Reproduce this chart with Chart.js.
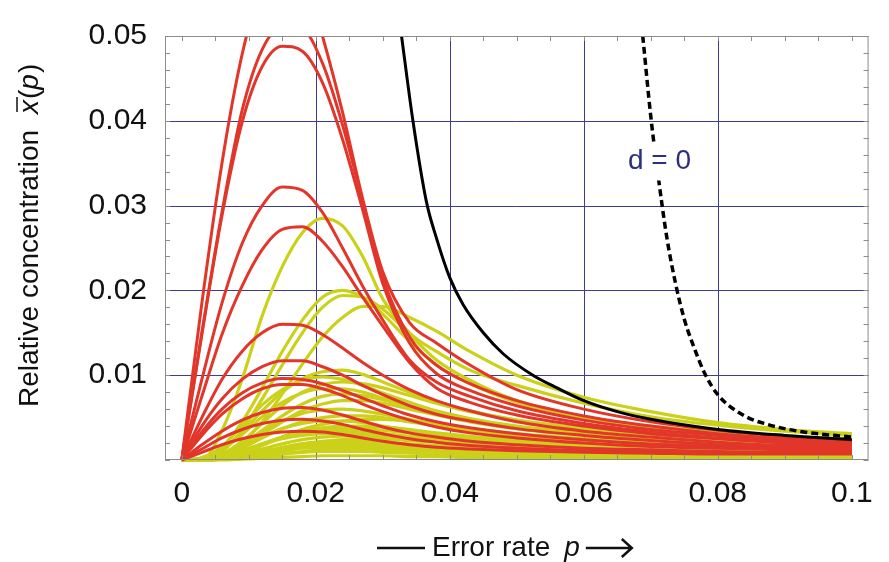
<!DOCTYPE html>
<html>
<head>
<meta charset="utf-8">
<script src="https://cdn.jsdelivr.net/npm/chart.js@4.4.1/dist/chart.umd.min.js"></script>
<style>
  html, body { margin: 0; padding: 0; background: #fff; }
  #wrap { width: 889px; height: 562px; }
</style>
</head>
<body>
<div id="wrap"><canvas id="chart" width="889" height="562"></canvas></div>
<script>
// error rate grid shared by the red and yellow curves
const P = [0, 0.003, 0.006, 0.009, 0.012, 0.015, 0.018, 0.021, 0.024, 0.027, 0.030, 0.034, 0.038, 0.043, 0.050, 0.060, 0.070, 0.080, 0.090, 0.100];

// red curves
const red1  = [0, 0.0185, 0.0350, 0.0478, 0.0560, 0.0596, 0.0578, 0.0500, 0.0410, 0.0308, 0.0222, 0.0162, 0.0138, 0.0112, 0.0083, 0.0060, 0.0045, 0.0035, 0.0028, 0.0023];
const red2  = [0, 0.0150, 0.0292, 0.0412, 0.0484, 0.0511, 0.0508, 0.0468, 0.0395, 0.0305, 0.0215, 0.0145, 0.0112, 0.0090, 0.0070, 0.0052, 0.0040, 0.0031, 0.0025, 0.0021];
const red3  = [0, 0.0148, 0.0288, 0.0398, 0.0464, 0.0488, 0.0482, 0.0445, 0.0378, 0.0295, 0.0208, 0.0138, 0.0102, 0.0082, 0.0064, 0.0047, 0.0036, 0.0029, 0.0023, 0.0020];
const red4  = [0, 0.0095, 0.0185, 0.0255, 0.0300, 0.0322, 0.0318, 0.0292, 0.0250, 0.0205, 0.0165, 0.0118, 0.0092, 0.0075, 0.0058, 0.0043, 0.0033, 0.0026, 0.0021, 0.0018];
const red5  = [0, 0.0075, 0.0148, 0.0205, 0.0248, 0.0272, 0.0275, 0.0258, 0.0228, 0.0192, 0.0158, 0.0115, 0.0085, 0.0068, 0.0053, 0.0040, 0.0031, 0.0025, 0.0020, 0.0017];
const red6  = [0, 0.0050, 0.0095, 0.0128, 0.0150, 0.0160, 0.0159, 0.0148, 0.0132, 0.0115, 0.0100, 0.0083, 0.0070, 0.0058, 0.0045, 0.0034, 0.0027, 0.0021, 0.0017, 0.0015];
const red7  = [0, 0.0040, 0.0072, 0.0095, 0.0110, 0.0117, 0.0117, 0.0110, 0.0100, 0.0088, 0.0077, 0.0064, 0.0054, 0.0046, 0.0037, 0.0029, 0.0023, 0.0018, 0.0015, 0.0013];
const red8  = [0, 0.0033, 0.0060, 0.0079, 0.0091, 0.0096, 0.0095, 0.0090, 0.0082, 0.0073, 0.0064, 0.0053, 0.0045, 0.0038, 0.0031, 0.0024, 0.0019, 0.0016, 0.0013, 0.0012];
const red9  = [0, 0.0029, 0.0054, 0.0072, 0.0084, 0.0089, 0.0089, 0.0084, 0.0076, 0.0066, 0.0057, 0.0047, 0.0039, 0.0032, 0.0026, 0.0020, 0.0016, 0.0014, 0.0012, 0.0011];
const red10 = [0, 0.0018, 0.0034, 0.0047, 0.0056, 0.0061, 0.0062, 0.0059, 0.0053, 0.0046, 0.0039, 0.0032, 0.0027, 0.0022, 0.0018, 0.0014, 0.0012, 0.0010, 0.0009, 0.0009];
const red11 = [0, 0.0013, 0.0026, 0.0036, 0.0043, 0.0047, 0.0048, 0.0046, 0.0042, 0.0036, 0.0031, 0.0025, 0.0021, 0.0017, 0.0014, 0.0011, 0.0010, 0.0009, 0.0008, 0.0008];
const red12 = [0, 0.0009, 0.0018, 0.0025, 0.0030, 0.0033, 0.0034, 0.0033, 0.0030, 0.0026, 0.0022, 0.0018, 0.0015, 0.0013, 0.0011, 0.0009, 0.0008, 0.0007, 0.0007, 0.0007];

// yellow curves
const yellow1  = [0, 0.0000, 0.0035, 0.0095, 0.0170, 0.0228, 0.0268, 0.0285, 0.0276, 0.0240, 0.0190, 0.0150, 0.0128, 0.0106, 0.0088, 0.0067, 0.0051, 0.0041, 0.0034, 0.0029];
const yellow2  = [0, 0.0002, 0.0015, 0.0045, 0.0085, 0.0128, 0.0165, 0.0192, 0.0200, 0.0192, 0.0172, 0.0140, 0.0112, 0.0090, 0.0068, 0.0050, 0.0039, 0.0032, 0.0027, 0.0024];
const yellow3  = [0, 0.0001, 0.0010, 0.0035, 0.0072, 0.0112, 0.0150, 0.0180, 0.0194, 0.0192, 0.0178, 0.0148, 0.0118, 0.0094, 0.0070, 0.0051, 0.0040, 0.0033, 0.0028, 0.0025];
const yellow4  = [0, 0.0001, 0.0006, 0.0020, 0.0045, 0.0078, 0.0113, 0.0145, 0.0168, 0.0181, 0.0181, 0.0168, 0.0152, 0.0128, 0.0100, 0.0074, 0.0057, 0.0044, 0.0036, 0.0031];
const yellow5  = [0, 0.0002, 0.0012, 0.0033, 0.0058, 0.0080, 0.0096, 0.0104, 0.0106, 0.0101, 0.0092, 0.0080, 0.0069, 0.0058, 0.0047, 0.0037, 0.0030, 0.0025, 0.0022, 0.0020];
const yellow6  = [0, 0.0003, 0.0016, 0.0040, 0.0065, 0.0083, 0.0094, 0.0098, 0.0095, 0.0088, 0.0079, 0.0068, 0.0058, 0.0049, 0.0040, 0.0032, 0.0026, 0.0022, 0.0019, 0.0017];
const yellow7  = [0, 0.0001, 0.0007, 0.0022, 0.0043, 0.0064, 0.0080, 0.0089, 0.0092, 0.0090, 0.0085, 0.0076, 0.0067, 0.0057, 0.0047, 0.0037, 0.0030, 0.0025, 0.0022, 0.0020];
const yellow8  = [0, 0.0002, 0.0012, 0.0030, 0.0051, 0.0068, 0.0079, 0.0084, 0.0084, 0.0080, 0.0073, 0.0063, 0.0054, 0.0046, 0.0037, 0.0029, 0.0024, 0.0020, 0.0017, 0.0016];
const yellow9  = [0, 0.0001, 0.0006, 0.0018, 0.0035, 0.0052, 0.0066, 0.0075, 0.0078, 0.0076, 0.0071, 0.0063, 0.0055, 0.0047, 0.0039, 0.0031, 0.0025, 0.0021, 0.0019, 0.0017];
const yellow10 = [0, 0.0001, 0.0005, 0.0015, 0.0030, 0.0045, 0.0058, 0.0066, 0.0070, 0.0070, 0.0067, 0.0060, 0.0053, 0.0045, 0.0037, 0.0029, 0.0023, 0.0019, 0.0017, 0.0015];
const yellow11 = [0, 0.0001, 0.0007, 0.0019, 0.0034, 0.0046, 0.0055, 0.0059, 0.0060, 0.0058, 0.0054, 0.0048, 0.0042, 0.0036, 0.0030, 0.0024, 0.0020, 0.0017, 0.0015, 0.0014];
const yellow12 = [0, 0.0001, 0.0005, 0.0014, 0.0026, 0.0037, 0.0045, 0.0050, 0.0052, 0.0052, 0.0050, 0.0045, 0.0040, 0.0035, 0.0029, 0.0023, 0.0019, 0.0016, 0.0014, 0.0013];
const yellow13 = [0, 0.0000, 0.0002, 0.0008, 0.0017, 0.0027, 0.0036, 0.0042, 0.0046, 0.0048, 0.0048, 0.0046, 0.0042, 0.0037, 0.0031, 0.0025, 0.0020, 0.0017, 0.0015, 0.0014];
const yellow14 = [0, 0.0001, 0.0006, 0.0016, 0.0027, 0.0037, 0.0043, 0.0046, 0.0046, 0.0044, 0.0040, 0.0035, 0.0030, 0.0026, 0.0021, 0.0017, 0.0014, 0.0012, 0.0011, 0.0010];
const yellow15 = [0, 0.0000, 0.0003, 0.0009, 0.0018, 0.0027, 0.0034, 0.0038, 0.0040, 0.0040, 0.0039, 0.0036, 0.0032, 0.0028, 0.0024, 0.0019, 0.0016, 0.0014, 0.0012, 0.0011];
const yellow16 = [0, 0.0000, 0.0003, 0.0010, 0.0019, 0.0027, 0.0033, 0.0036, 0.0037, 0.0037, 0.0035, 0.0032, 0.0028, 0.0024, 0.0020, 0.0016, 0.0013, 0.0011, 0.0010, 0.0010];
const yellow17 = [0, 0.0000, 0.0004, 0.0011, 0.0019, 0.0026, 0.0031, 0.0033, 0.0034, 0.0033, 0.0031, 0.0028, 0.0025, 0.0022, 0.0018, 0.0015, 0.0012, 0.0010, 0.0009, 0.0009];
const yellow18 = [0, 0.0000, 0.0003, 0.0010, 0.0018, 0.0025, 0.0029, 0.0031, 0.0031, 0.0030, 0.0028, 0.0025, 0.0022, 0.0019, 0.0016, 0.0013, 0.0011, 0.0009, 0.0008, 0.0008];
const yellow19 = [0, 0.0000, 0.0002, 0.0007, 0.0013, 0.0019, 0.0024, 0.0027, 0.0028, 0.0028, 0.0027, 0.0025, 0.0022, 0.0019, 0.0016, 0.0013, 0.0011, 0.0009, 0.0008, 0.0008];
const yellow20 = [0, 0.0000, 0.0001, 0.0004, 0.0009, 0.0014, 0.0019, 0.0022, 0.0024, 0.0025, 0.0025, 0.0023, 0.0021, 0.0018, 0.0015, 0.0012, 0.0010, 0.0008, 0.0007, 0.0007];
const yellow21 = [0, 0.0000, 0.0002, 0.0005, 0.0010, 0.0015, 0.0019, 0.0021, 0.0022, 0.0022, 0.0021, 0.0019, 0.0017, 0.0015, 0.0013, 0.0010, 0.0008, 0.0007, 0.0006, 0.0006];
const yellow22 = [0, 0.0000, 0.0001, 0.0004, 0.0008, 0.0012, 0.0016, 0.0018, 0.0019, 0.0019, 0.0018, 0.0016, 0.0014, 0.0012, 0.0010, 0.0008, 0.0007, 0.0006, 0.0005, 0.0005];
const yellow23 = [0, 0.0000, 0.0001, 0.0004, 0.0007, 0.0011, 0.0014, 0.0015, 0.0016, 0.0016, 0.0015, 0.0014, 0.0013, 0.0011, 0.0009, 0.0007, 0.0006, 0.0005, 0.0005, 0.0005];
const yellow24 = [0, 0.0000, 0.0001, 0.0002, 0.0005, 0.0008, 0.0010, 0.0012, 0.0013, 0.0013, 0.0012, 0.0011, 0.0010, 0.0009, 0.0007, 0.0006, 0.0005, 0.0004, 0.0004, 0.0004];
const yellow25 = [0, 0.0000, 0.0001, 0.0002, 0.0004, 0.0007, 0.0009, 0.0010, 0.0010, 0.0010, 0.0009, 0.0008, 0.0007, 0.0006, 0.0005, 0.0004, 0.0004, 0.0003, 0.0003, 0.0003];
const yellow26 = [0, 0.0000, 0.0000, 0.0001, 0.0002, 0.0003, 0.0004, 0.0005, 0.0005, 0.0005, 0.0005, 0.0004, 0.0004, 0.0003, 0.0003, 0.0002, 0.0002, 0.0002, 0.0002, 0.0002];

// error threshold (black) and d = 0 (dashed)
const blackP = [0.0328, 0.0345, 0.0365, 0.038, 0.040, 0.042, 0.045, 0.048, 0.0524, 0.056, 0.060, 0.065, 0.070, 0.080, 0.090, 0.100];
const blackY = [0.0500, 0.0400, 0.0305, 0.0262, 0.0215, 0.0183, 0.0150, 0.0125, 0.0100, 0.0085, 0.0070, 0.0057, 0.0048, 0.0036, 0.0029, 0.0024];
const dashP = [0.0688, 0.0700, 0.0711, 0.0724, 0.0737, 0.0750, 0.0762, 0.0780, 0.0800, 0.0840, 0.0874, 0.0920, 0.1000];
const dashY = [0.0500, 0.0405, 0.0335, 0.0262, 0.0208, 0.0166, 0.0138, 0.0103, 0.0077, 0.0052, 0.0042, 0.0034, 0.0027];

const xTicks = [0, 0.02, 0.04, 0.06, 0.08, 0.1];
const xTickLabels = ['0', '0.02', '0.04', '0.06', '0.08', '0.1'];
const yTicks = [0.01, 0.02, 0.03, 0.04, 0.05];
const yTickLabels = ['0.01', '0.02', '0.03', '0.04', '0.05'];
const xGrid = [0.02, 0.04, 0.06, 0.08];
const yGrid = [0.01, 0.02, 0.03, 0.04];

const dLabel = { p: 0.0713, v: 0.0352, text: 'd = 0' };

const RED = '#e2362b';
const YELLOW = '#cbd118';
const NAVY = '#3c3c94';
const FONT = "'Liberation Sans', Arial, sans-serif";

const redSeries = [red1, red2, red3, red4, red5, red6, red7, red8, red9, red10, red11, red12];
const yellowSeries = [yellow1, yellow2, yellow3, yellow4, yellow5, yellow6, yellow7, yellow8, yellow9, yellow10,
  yellow11, yellow12, yellow13, yellow14, yellow15, yellow16, yellow17, yellow18, yellow19, yellow20,
  yellow21, yellow22, yellow23, yellow24, yellow25, yellow26];

function toPoints(xs, ys) {
  return xs.map((x, i) => ({ x: x, y: ys[i] }));
}

function curve(xs, ys, color, width, dash) {
  return {
    data: toPoints(xs, ys),
    borderColor: color,
    borderWidth: width,
    borderDash: dash || [],
    pointRadius: 0,
    fill: false,
    cubicInterpolationMode: 'monotone',
    clip: { left: 2, top: 0, right: 2, bottom: 3 }
  };
}

// first dataset is drawn on top
const datasets = [];
datasets.push(curve(blackP, blackY, '#000', 3));
datasets.push(curve(dashP, dashY, '#000', 3.5, [7, 4]));
redSeries.forEach(s => datasets.push(curve(P, s, RED, 3)));
yellowSeries.forEach(s => datasets.push(curve(P, s, YELLOW, 3.2)));

const decorations = {
  id: 'decorations',
  beforeDatasetsDraw(chart) {
    const { ctx, chartArea: a, scales: { x, y } } = chart;
    ctx.save();
    ctx.strokeStyle = NAVY;
    ctx.lineWidth = 1;
    ctx.beginPath();
    xGrid.forEach(v => {
      const px = Math.round(x.getPixelForValue(v)) + 0.5;
      ctx.moveTo(px, a.top); ctx.lineTo(px, a.bottom);
    });
    yGrid.forEach(v => {
      const py = Math.round(y.getPixelForValue(v)) + 0.5;
      ctx.moveTo(a.left, py); ctx.lineTo(a.right, py);
    });
    ctx.stroke();
    ctx.restore();
  },
  afterDraw(chart) {
    const { ctx, chartArea: a, scales: { x, y } } = chart;
    ctx.save();

    // frame
    ctx.strokeStyle = '#8c8c8c';
    ctx.lineWidth = 1;
    ctx.strokeRect(a.left + 0.5, a.top + 0.5, a.right - a.left - 1, a.bottom - a.top - 1);

    // small inside ticks
    ctx.beginPath();
    for (let v = 0; v <= 0.1 + 1e-9; v += 0.005) {
      const px = Math.round(x.getPixelForValue(v)) + 0.5;
      ctx.moveTo(px, a.bottom); ctx.lineTo(px, a.bottom - 5);
      ctx.moveTo(px, a.top); ctx.lineTo(px, a.top + 5);
    }
    for (let v = 0; v <= 0.05 + 1e-9; v += 0.002) {
      const py = Math.round(y.getPixelForValue(v)) + 0.5;
      ctx.moveTo(a.left, py); ctx.lineTo(a.left + 5, py);
      ctx.moveTo(a.right, py); ctx.lineTo(a.right - 5, py);
    }
    ctx.stroke();

    // d = 0 label on a white patch
    const lx = x.getPixelForValue(dLabel.p);
    const ly = y.getPixelForValue(dLabel.v);
    ctx.font = '28px ' + FONT;
    const tw = ctx.measureText(dLabel.text).width;
    ctx.fillStyle = '#fff';
    ctx.fillRect(lx - tw / 2 - 4, ly - 19, tw + 8, 38);
    ctx.fillStyle = '#2c2f80';
    ctx.textAlign = 'center';
    ctx.textBaseline = 'middle';
    ctx.fillText(dLabel.text, lx, ly);

    // x title:  —— Error rate  p ——>
    ctx.fillStyle = '#111';
    ctx.strokeStyle = '#111';
    ctx.textAlign = 'left';
    ctx.textBaseline = 'middle';
    const ty = 548;
    let cx = 377;
    ctx.lineWidth = 2.5;
    ctx.beginPath(); ctx.moveTo(cx, ty); ctx.lineTo(cx + 48, ty); ctx.stroke();
    cx += 55;
    ctx.font = '28px ' + FONT;
    ctx.fillText('Error rate', cx, ty);
    cx += ctx.measureText('Error rate').width + 14;
    ctx.font = 'italic 28px ' + FONT;
    ctx.fillText('p', cx, ty);
    cx += ctx.measureText('p').width + 6;
    ctx.beginPath();
    ctx.moveTo(cx, ty); ctx.lineTo(cx + 46, ty);
    ctx.moveTo(cx + 36, ty - 9); ctx.lineTo(cx + 46, ty); ctx.lineTo(cx + 36, ty + 9);
    ctx.stroke();

    // y title: Relative concentration  x̄(p)
    ctx.translate(30, 407);
    ctx.rotate(-Math.PI / 2);
    ctx.font = '28px ' + FONT;
    ctx.fillText('Relative concentration', 0, 0);
    let rx = ctx.measureText('Relative concentration').width + 16;
    ctx.font = 'italic 28px ' + FONT;
    ctx.fillText('x', rx, 0);
    const xw = ctx.measureText('x').width;
    ctx.lineWidth = 1.5;
    ctx.beginPath(); ctx.moveTo(rx + 2, -13); ctx.lineTo(rx + xw + 3, -13); ctx.stroke();
    rx += xw + 1;
    ctx.font = '28px ' + FONT;
    ctx.fillText('(', rx, 0);
    rx += ctx.measureText('(').width;
    ctx.font = 'italic 28px ' + FONT;
    ctx.fillText('p', rx, 0);
    rx += ctx.measureText('p').width + 1;
    ctx.font = '28px ' + FONT;
    ctx.fillText(')', rx, 0);

    ctx.restore();
  }
};

new Chart(document.getElementById('chart'), {
  type: 'line',
  data: { datasets: datasets },
  options: {
    responsive: false,
    animation: false,
    devicePixelRatio: 1,
    layout: { padding: { top: 22, right: 14, left: 0, bottom: 0 } },
    plugins: {
      legend: { display: false },
      tooltip: { enabled: false }
    },
    scales: {
      x: {
        type: 'linear',
        min: -0.0025,
        max: 0.1025,
        afterBuildTicks: scale => { scale.ticks = xTicks.map(v => ({ value: v })); },
        afterFit: scale => { scale.height = 102; },
        border: { display: false },
        grid: { display: false, drawTicks: false },
        ticks: {
          autoSkip: false,
          maxRotation: 0,
          padding: 16,
          color: '#111',
          font: { family: FONT, size: 30 },
          callback: (v, i) => xTickLabels[i]
        }
      },
      y: {
        min: 0,
        max: 0.05,
        afterBuildTicks: scale => { scale.ticks = yTicks.map(v => ({ value: v })); },
        afterFit: scale => { scale.width = 165; },
        border: { display: false },
        grid: { display: false, drawTicks: false },
        ticks: {
          padding: 18,
          color: '#111',
          font: { family: FONT, size: 30 },
          callback: (v, i) => yTickLabels[i]
        }
      }
    }
  },
  plugins: [decorations]
});
</script>
</body>
</html>
